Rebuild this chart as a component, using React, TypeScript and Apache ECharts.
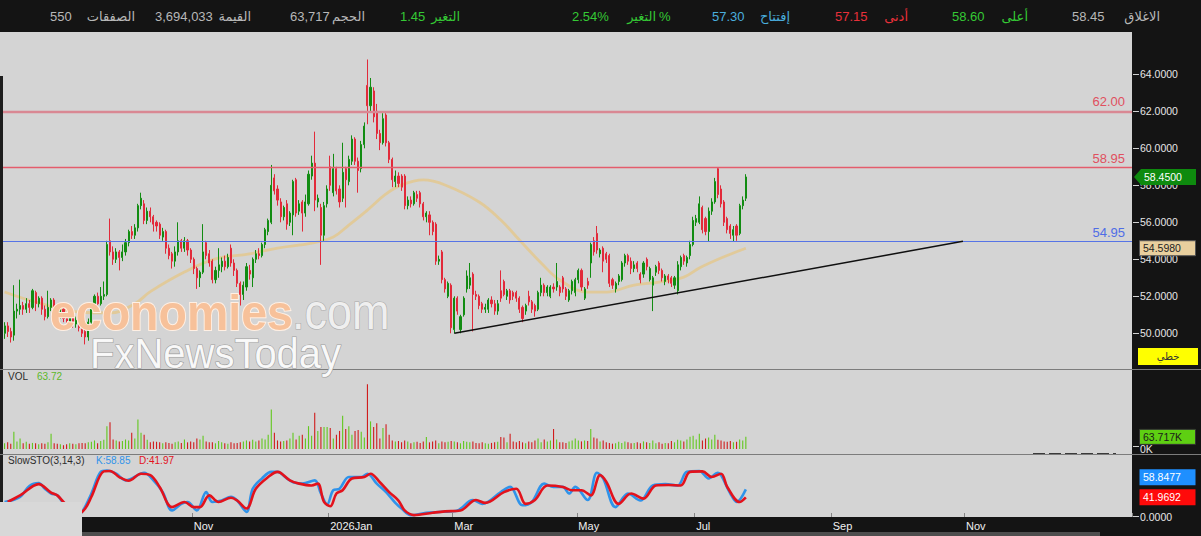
import React, { useEffect, useRef } from "react";
import * as echarts from "echarts";

// ---------- data ----------
const SLOT_COUNT = 364;
const slots: string[] = Array.from({ length: SLOT_COUNT }, (_, i) => String(i));
const monthTicks: Record<number, string> = { 61: "Nov", 105: "2026Jan", 145: "Mar", 185: "May", 223: "Jul", 267: "Sep", 310: "Nov" };

// [open, close, low, high]
const candles: number[][] = [
  [50.0,50.4,49.7,50.6],[50.4,50.1,49.8,50.6],[50.1,49.8,49.5,50.3],[49.9,51.2,49.6,52.6],[51.2,51.3,50.8,51.6],
  [51.3,51.5,51.0,52.9],[51.5,51.3,51.0,51.7],[51.3,51.6,51.1,51.9],[51.6,51.4,51.1,51.8],[51.4,52.3,51.3,52.4],
  [52.2,51.6,51.2,52.3],[51.6,51.9,51.4,52.0],[51.9,51.3,51.0,52.0],[51.3,50.9,50.7,51.5],[50.9,51.4,50.8,52.3],
  [51.4,51.8,51.2,51.9],[51.8,51.2,51.0,51.9],[51.2,51.0,50.7,51.4],[51.0,51.3,50.8,51.5],[51.3,50.8,50.6,51.4],
  [50.8,50.6,50.4,51.0],[50.6,50.9,50.5,51.1],[50.9,50.5,50.3,51.0],[50.5,50.7,50.3,50.9],[50.7,50.3,50.1,50.8],
  [50.3,50.0,49.8,50.5],[50.1,49.8,49.4,50.2],[49.8,50.6,49.6,50.8],[50.6,51.5,50.5,51.6],[51.5,52.0,51.3,52.1],
  [52.0,51.6,51.4,52.2],[51.6,52.0,51.5,52.5],[52.0,52.1,51.8,52.8],[52.1,54.8,52.0,55.0],[55.0,54.4,54.2,56.2],
  [54.4,54.0,53.7,54.7],[54.0,54.4,53.8,54.6],[54.4,54.1,53.4,54.5],[54.1,54.4,53.9,54.8],[54.4,54.9,54.2,55.1],
  [54.9,55.5,54.7,55.6],[55.5,55.3,55.1,55.8],[55.3,55.7,55.1,55.9],[55.7,56.9,55.5,57.0],[56.9,57.3,56.7,57.6],
  [57.0,56.1,55.9,57.2],[56.1,56.6,55.9,56.8],[56.6,56.3,56.0,56.8],[56.3,55.9,55.5,56.4],[56.0,55.8,55.5,56.1],
  [55.9,55.3,55.1,56.0],[55.2,55.5,55.0,55.7],[55.5,54.6,54.3,55.6],[54.6,54.2,54.0,54.8],[54.3,53.9,53.5,54.4],
  [53.9,54.4,53.6,54.7],[54.4,55.0,54.2,56.0],[55.0,54.6,54.4,55.1],[54.6,55.0,54.4,55.2],[55.0,54.5,54.2,55.1],
  [54.5,54.0,53.8,54.6],[54.0,53.5,53.2,54.1],[53.5,53.0,52.4,53.6],[53.0,53.3,52.5,53.4],[53.3,54.4,53.2,55.9],
  [54.9,54.2,54.0,55.0],[54.3,53.8,53.6,54.5],[53.9,52.9,52.7,54.0],[52.9,53.4,52.7,53.6],[53.4,53.7,53.0,54.6],
  [53.6,53.9,53.3,54.1],[53.9,53.6,53.4,54.2],[53.6,54.1,53.5,54.3],[54.6,53.8,53.6,54.8],[53.8,53.4,53.1,54.0],
  [53.4,52.7,52.5,53.5],[52.7,52.1,51.5,52.8],[52.1,52.6,51.8,52.8],[52.5,53.6,52.3,53.8],[53.4,53.2,52.9,53.7],
  [53.0,54.0,52.5,54.1],[54.0,54.3,53.8,54.5],[54.3,54.2,54.0,54.6],[54.2,54.8,54.1,54.9],[54.8,55.6,54.6,55.7],
  [55.5,56.1,55.3,56.2],[56.0,58.0,55.9,59.1],[58.4,57.7,57.5,58.6],[57.8,57.2,56.9,58.0],[57.1,56.3,56.0,57.3],
  [56.3,56.8,56.1,56.9],[57.0,55.9,55.6,57.2],[56.0,56.5,55.8,56.6],[56.4,58.2,55.3,58.3],[58.3,56.5,56.3,58.4],
  [56.6,57.0,56.4,57.2],[57.1,56.5,55.5,57.2],[56.5,57.1,56.3,57.5],[57.0,58.6,56.9,58.8],[58.5,59.2,58.3,59.6],
  [59.2,57.2,56.6,60.9],[57.1,57.3,56.8,57.5],[56.8,55.3,53.7,57.0],[55.3,56.9,55.0,57.1],[57.0,57.8,56.8,58.0],
  [59.0,58.0,57.7,59.6],[57.6,58.9,57.4,59.7],[58.9,57.7,57.5,59.0],[57.8,57.1,56.8,58.0],[57.3,58.7,57.1,60.3],
  [58.9,58.3,56.8,59.0],[58.2,59.4,58.0,59.6],[59.3,60.5,59.1,60.7],[60.5,59.3,59.1,60.6],[59.3,58.8,57.6,59.5],
  [58.9,60.2,58.7,60.4],[60.2,61.2,60.0,61.4],[63.4,62.3,61.3,64.8],[62.3,63.3,62.0,63.8],[63.1,61.7,61.4,63.3],
  [62.0,60.8,60.5,62.4],[60.8,60.3,59.9,61.0],[60.3,61.6,60.2,61.9],[61.8,60.3,60.1,61.9],[60.3,59.4,59.2,60.4],
  [59.4,58.3,57.9,59.5],[58.2,58.5,57.9,58.8],[58.5,58.1,57.9,58.7],[58.5,57.9,57.7,58.6],[58.5,56.9,56.7,58.6],
  [56.9,57.2,56.7,57.4],[57.2,57.0,56.8,57.4],[57.0,57.6,56.9,57.7],[57.5,57.3,57.1,57.7],[57.6,57.0,56.8,57.7],
  [57.0,56.3,56.1,57.1],[56.3,56.5,56.0,56.6],[56.4,56.0,55.3,56.6],[56.0,55.5,55.3,56.1],[55.9,53.9,53.7,56.0],
  [53.9,54.0,53.7,54.2],[54.4,52.9,52.7,54.5],[52.9,52.4,52.2,53.0],[52.0,52.7,51.9,52.8],[52.6,50.3,50.0,52.7],
  [50.2,51.9,50.0,52.0],[51.9,51.2,51.0,52.0],[50.2,50.9,50.0,51.0],[51.0,51.9,50.9,52.0],[52.4,53.1,52.2,53.4],
  [52.6,53.0,52.4,53.8],[53.2,52.1,50.1,53.3],[52.1,52.0,51.8,52.3],[52.0,51.5,51.3,52.1],[51.6,51.3,51.1,51.7],
  [51.3,51.4,51.1,51.6],[51.3,51.8,51.1,51.9],[51.8,51.6,51.4,52.0],[51.6,51.2,51.0,51.8],[51.2,51.6,51.0,51.8],
  [52.3,51.9,51.7,53.4],[52.8,52.1,52.0,52.9],[52.0,52.3,51.8,52.4],[52.3,51.8,51.6,52.4],[52.2,52.0,51.8,52.3],
  [52.2,51.9,51.7,52.3],[51.9,51.3,51.1,52.0],[51.4,50.8,50.6,51.5],[51.2,51.5,51.0,51.6],[52.0,51.7,51.5,52.3],
  [51.7,51.3,51.1,51.8],[51.5,51.2,50.9,51.6],[51.3,52.2,51.2,52.3],[52.2,52.6,52.0,53.0],[52.6,52.2,52.0,52.7],
  [52.2,52.5,52.0,52.6],[52.0,52.5,51.9,52.6],[52.5,52.4,52.2,52.7],[52.5,52.8,52.3,53.8],[52.5,52.2,52.0,52.6],
  [53.0,52.4,52.2,53.1],[52.4,52.0,51.8,52.5],[51.8,52.3,51.7,52.4],[52.3,52.8,52.1,52.9],[52.2,52.9,52.0,53.0],
  [52.9,53.4,52.7,53.5],[53.4,52.5,52.3,53.5],[51.9,52.4,51.8,52.5],[52.8,52.6,52.4,53.0],[53.8,54.8,53.0,54.9],
  [55.0,54.4,54.2,55.2],[55.4,54.5,54.3,55.8],[54.3,54.5,54.1,54.6],[54.6,53.9,53.3,54.7],[54.3,54.0,53.8,54.4],
  [54.2,52.7,52.5,54.3],[52.9,52.6,52.4,53.0],[52.4,52.7,52.2,52.8],[52.8,53.1,52.6,53.2],[52.9,53.8,52.8,53.9],
  [53.8,54.2,53.6,54.3],[54.2,53.9,53.7,54.3],[53.9,53.5,53.2,54.1],[53.5,53.7,53.3,53.9],[53.8,53.5,53.3,53.9],
  [53.2,52.9,52.7,53.3],[53.2,53.8,53.0,53.9],[54.0,53.6,53.4,54.1],[52.9,53.5,52.8,53.6],[52.6,53.0,51.2,53.1],
  [53.3,53.6,53.1,53.7],[53.8,53.4,53.2,53.9],[53.4,53.0,52.8,53.5],[52.8,53.1,52.6,53.2],[53.1,52.9,52.7,53.2],
  [53.0,52.7,52.5,53.1],[52.6,53.0,52.4,53.1],[52.3,53.7,52.1,53.9],[53.6,54.1,53.4,54.2],[54.2,53.9,53.7,54.3],
  [53.8,54.1,53.6,54.2],[54.2,54.8,54.0,55.0],[54.8,56.1,54.7,56.3],[56.0,56.2,55.8,56.4],[56.0,57.0,55.9,57.4],
  [56.8,55.6,55.4,56.9],[56.2,55.5,55.3,56.3],[55.5,56.6,54.95,56.8],[56.6,57.1,56.4,57.3],[57.1,58.2,57.0,58.4],
  [58.9,57.5,57.3,58.95],[57.8,57.0,56.8,58.0],[57.1,56.0,55.8,57.2],[56.2,55.6,55.4,56.3],[55.8,55.4,55.1,55.9],
  [55.3,55.6,54.95,55.8],[55.8,55.3,55.0,55.9],[55.4,56.9,55.3,57.0],[56.9,57.2,56.7,57.4],[57.30,58.45,57.15,58.60],
];

// thousands of shares
const volumes: number[] = [
  30,35,28,90,40,55,30,38,28,32, 30,25,30,28,35,80,30,28,25,20,
  25,30,28,25,30,32,30,35,38,45, 30,42,48,120,140,50,45,40,42,50,
  45,85,55,155,85,75,48,35,40,38, 35,30,35,32,28,35,40,32,50,35,
  40,35,55,50,70,40,35,35,30,42, 35,30,28,35,30,32,35,40,45,40,
  48,40,45,55,50,75,207,85,45,40, 42,45,55,85,50,70,75,55,120,70,
  190,95,115,115,115,110,55,75,95,175, 105,120,75,95,100,90,60,340,145,115,
  135,55,110,130,75,45,40,42,35,45, 40,30,35,38,32,40,63,35,40,45,
  30,40,35,38,42,40,35,30,42,38, 35,40,32,30,35,30,28,32,35,38,
  63,60,35,80,40,35,42,35,30,40, 35,45,55,35,50,40,45,105,50,35,
  35,32,40,45,55,45,40,45,42,105, 60,55,40,45,35,32,28,30,38,32,
  40,35,30,32,35,30,40,35,32,45, 30,35,28,32,30,42,35,48,45,40,
  50,65,70,50,80,45,55,60,50,75, 48,45,40,38,42,35,38,50,45,63.717,
];

// moving average: [slot, value]
const maPoints: number[][] = [
  [0,52.23],[11,51.64],[24,51.15],[34,51.1],[42,51.6],[47,52.25],[58,53.31],[68,54.02],[79,54.29],[88,54.61],
  [99,54.88],[106,55.21],[111,55.85],[117,56.66],[123,57.53],[128,58.02],[135,58.29],[142,58.02],[153,57.10],
  [160,56.12],[166,55.04],[173,53.80],[179,52.88],[188,52.23],[194,52.23],[203,52.61],[211,52.77],[219,53.04],
  [224,53.53],[231,54.07],[239,54.598],
];

const stochK: number[][] = [
  [0,32],[5,43],[8,66],[11,72],[13,60],[15,50],[17,46],[19,28],[21,9],[23,3],[25,11],[28,50],[31,96],[33,99],
  [36,92],[39,78],[41,82],[45,94],[48,78],[51,53],[54,14],[57,28],[59,32],[62,14],[65,53],[67,32],[70,35],
  [73,43],[75,35],[78,11],[80,60],[83,82],[86,96],[88,96],[91,82],[93,74],[96,71],[100,78],[102,50],[104,27],
  [106,57],[108,60],[111,85],[115,85],[117,92],[120,71],[123,53],[126,30],[128,18],[131,4],[136,9],[141,11],
  [146,14],[151,36],[154,28],[160,53],[163,64],[167,25],[170,32],[174,71],[177,64],[180,64],[182,50],[184,64],
  [188,36],[191,94],[193,82],[197,21],[201,50],[205,35],[209,67],[213,70],[217,67],[220,96],[224,98],[227,82],
  [230,94],[231,89],[234,50],[236,32],[239,58.85],
];

const stochD: number[][] = [
  [1,32],[5,46],[11,70],[15,52],[17,46],[19,32],[22,14],[24,8],[26,18],[28,43],[32,97],[34,98],[37,85],[40,77],
  [44,92],[47,89],[50,64],[54,21],[58,32],[61,21],[63,21],[66,46],[69,32],[73,41],[75,35],[78,18],[81,60],
  [85,85],[88,96],[89,94],[92,78],[95,71],[99,67],[101,71],[103,32],[105,23],[107,50],[109,57],[112,82],
  [116,85],[118,92],[121,74],[124,53],[127,35],[129,14],[132,4],[138,9],[142,12],[147,14],[152,36],[155,30],
  [161,53],[165,60],[168,28],[171,36],[175,67],[180,64],[183,57],[186,57],[189,46],[192,89],[194,75],[198,28],
  [202,50],[206,39],[210,67],[214,68],[218,67],[221,96],[225,97],[228,85],[231,92],[233,64],[237,32],[239,41.97],
];

const priceTicks = [50, 52, 54, 56, 58, 60, 62, 64];
const resistanceLevels = [62, 58.95];
const supportLevel = 54.95;
const trendPoints: number[][] = [[145, 50.0], [309, 54.97]];

const lastClose = 58.45;
const lastMA = 54.598;
const lastVolume = 63.717;
const lastK = 58.8477;
const lastD = 41.9692;

const headerNames = ["الصفقات", "القيمة", "الحجم", "التغير", "التغير", "إفتتاح", "أدنى", "أعلى", "الاغلاق"];
const headerValues = ["550", "3,694,033", "63,717", "1.45", "2.54%", "57.30", "57.15", "58.60", "58.45"];

// ---------- styling ----------
const FONT = '"Liberation Sans", "DejaVu Sans", sans-serif';
const UP = "#128c12";
const DOWN = "#e22a3a";
const VOL_UP = "#62c81e";
const VOL_DOWN = "#d01c1c";
const K_COLOR = "#2f93ea";
const D_COLOR = "#e3121c";

const headerLayout = [
  { vx: 50, nx: 135, c: "#b8b8b8" },
  { vx: 155, nx: 251, c: "#b8b8b8" },
  { vx: 290, nx: 365, c: "#b8b8b8" },
  { vx: 400, nx: 460, c: "#35c935" },
  { vx: 572, nx: 656, c: "#35c935" },
  { vx: 712, nx: 790, c: "#4aaede" },
  { vx: 835, nx: 908, c: "#e8303a" },
  { vx: 952, nx: 1028, c: "#35c935" },
  { vx: 1072, nx: 1160, c: "#b8b8b8" },
];

function txt(x: number, y: number, text: string, fill: string, size: number, align = "left", z = 100) {
  return {
    type: "text",
    z,
    x,
    y,
    silent: true,
    style: {
      text,
      fill,
      font: `${size}px ${FONT}`,
      textAlign: align,
      align,
      textVerticalAlign: "middle",
      verticalAlign: "middle",
    },
  };
}

function rect(x: number, y: number, w: number, h: number, fill: string, z = 100, stroke?: string) {
  return {
    type: "rect",
    z,
    silent: true,
    shape: { x, y, width: w, height: h },
    style: stroke ? { fill, stroke, lineWidth: 1 } : { fill },
  };
}

function hline(x1: number, x2: number, y: number, stroke: string, z = 100, dash?: number[]) {
  return {
    type: "line",
    z,
    silent: true,
    shape: { x1, y1: y, x2, y2: y },
    style: { stroke, lineWidth: 1, lineDash: dash },
  };
}

export default function App() {
  const ref = useRef<HTMLDivElement>(null);

  useEffect(() => {
    if (!ref.current) return;
    const chart = echarts.init(ref.current, null, { renderer: "svg" });

    const xAxisBase = (g: number) => ({
      type: "category",
      gridIndex: g,
      data: slots,
      boundaryGap: true,
      axisLine: { show: false },
      splitLine: { show: false },
      axisTick: {
        show: g === 2,
        inside: true,
        length: 4,
        interval: (i: number) => monthTicks[i] !== undefined,
        lineStyle: { color: "#858585" },
      },
      axisLabel: {
        show: g === 2,
        interval: (i: number) => monthTicks[i] !== undefined,
        formatter: (_v: string, i: number) => monthTicks[i] ?? "",
        align: "left",
        color: "#f0f0f0",
        fontSize: 11,
        fontFamily: FONT,
        margin: 3,
      },
    });

    const option: any = {
      animation: false,
      backgroundColor: "#141414",
      grid: [
        { left: 3, right: 69, top: 41, height: 328, outerBoundsMode: "none" },
        { left: 3, right: 69, top: 370, height: 79, outerBoundsMode: "none" },
        { left: 3, right: 69, top: 454, height: 63, outerBoundsMode: "none" },
      ],
      xAxis: [xAxisBase(0), xAxisBase(1), xAxisBase(2)],
      yAxis: [
        {
          type: "value",
          gridIndex: 0,
          position: "right",
          min: 48.07,
          max: 65.8,
          splitNumber: 9,
          axisLine: { show: false },
          axisTick: { show: false },
          splitLine: { show: false },
          axisLabel: {
            color: "#e6e6e6",
            fontSize: 10.5,
            fontFamily: FONT,
            margin: 8,
            showMinLabel: false,
            showMaxLabel: false,
            formatter: (v: number) => (priceTicks.indexOf(v) >= 0 ? v.toFixed(4) : ""),
          },
        },
        {
          type: "value",
          gridIndex: 1,
          position: "right",
          min: 0,
          max: 415,
          axisLine: { show: false },
          axisTick: { show: false },
          splitLine: { show: false },
          axisLabel: { color: "#e6e6e6", fontSize: 10.5, fontFamily: FONT, margin: 8, formatter: (v: number) => (v === 0 ? "0K" : "") },
        },
        {
          type: "value",
          gridIndex: 2,
          position: "right",
          min: 0,
          max: 134,
          axisLine: { show: false },
          axisTick: { show: false },
          splitLine: { show: false },
          axisLabel: { color: "#e6e6e6", fontSize: 10.5, fontFamily: FONT, margin: 8, formatter: (v: number) => (v === 0 ? "0.0000" : "") },
        },
      ],
      series: [
        {
          name: "MA",
          type: "line",
          xAxisIndex: 0,
          yAxisIndex: 0,
          data: maPoints,
          smooth: 0.4,
          showSymbol: false,
          silent: true,
          z: 1,
          lineStyle: { color: "#e2c994", width: 2.8, opacity: 0.9 },
        },
        {
          name: "price",
          type: "candlestick",
          xAxisIndex: 0,
          yAxisIndex: 0,
          data: candles,
          barWidth: 1.6,
          silent: true,
          z: 3,
          itemStyle: { color: UP, color0: DOWN, borderColor: UP, borderColor0: DOWN, borderWidth: 1 },
          markLine: {
            silent: true,
            symbol: ["none", "none"],
            animation: false,
            label: { show: true, position: "insideEndTop", fontSize: 13, fontFamily: FONT, distance: [7, 3] },
            data: [
              {
                yAxis: resistanceLevels[0],
                lineStyle: { color: "#d98893", width: 2.4, type: "solid" },
                label: { formatter: resistanceLevels[0].toFixed(2), color: "#e0505f" },
              },
              {
                yAxis: resistanceLevels[1],
                lineStyle: { color: "#e45c6c", width: 1.4, type: "solid" },
                label: { formatter: resistanceLevels[1].toFixed(2), color: "#e0505f" },
              },
              {
                yAxis: supportLevel,
                lineStyle: { color: "#5674e6", width: 1.2, type: "solid" },
                label: { formatter: supportLevel.toFixed(2), color: "#4f6de6" },
              },
              [
                { coord: trendPoints[0], lineStyle: { color: "#101010", width: 1.5, type: "solid" }, label: { show: false } },
                { coord: trendPoints[1] },
              ],
            ],
          },
        },
        {
          name: "VOL",
          type: "bar",
          xAxisIndex: 1,
          yAxisIndex: 1,
          barWidth: 1.1,
          silent: true,
          data: volumes.map((v, i) => ({
            value: v,
            itemStyle: { color: candles[i][1] >= candles[i][0] ? VOL_UP : VOL_DOWN },
          })),
        },
        {
          name: "K",
          type: "line",
          xAxisIndex: 2,
          yAxisIndex: 2,
          data: stochK,
          smooth: 0.35,
          showSymbol: false,
          silent: true,
          z: 3,
          lineStyle: { color: K_COLOR, width: 2.6 },
        },
        {
          name: "D",
          type: "line",
          xAxisIndex: 2,
          yAxisIndex: 2,
          data: stochD,
          smooth: 0.35,
          showSymbol: false,
          silent: true,
          z: 4,
          lineStyle: { color: D_COLOR, width: 2.6 },
        },
      ],
    };

    chart.setOption(option);

    const py = (v: number) => chart.convertToPixel({ yAxisIndex: 0 }, v) as number;
    const vy = (v: number) => chart.convertToPixel({ yAxisIndex: 1 }, v) as number;
    const sy = (v: number) => chart.convertToPixel({ yAxisIndex: 2 }, v) as number;

    const g: any[] = [];
    // panel backgrounds
    g.push(rect(0, 32, 1132, 485, "#d4d4d4", -10));
    g.push(rect(0, 76, 3, 441, "#1d1d1d", -9));
    g.push(rect(82, 532, 1018, 4, "#4e4e4e", -9));
    // separators
    g.push(hline(0, 1201, 369.5, "#7c7c7c", 5));
    g.push(hline(0, 1201, 454.5, "#7c7c7c", 5));
    g.push(hline(1033, 1116, 453.5, "#3a3a3a", 5, [12, 4]));

    // header
    headerLayout.forEach((h, i) => {
      g.push(txt(h.vx, 16, headerValues[i], h.c, 13, "left"));
      g.push(txt(h.nx, 16, headerNames[i], h.c, 13, "right"));
    });
    g.push(txt(659, 16, "%", "#35c935", 13, "left"));

    // watermark
    g.push({
      type: "text", z: 90, x: 50, y: 312, scaleX: 0.93, silent: true,
      style: { text: "economies", x: 0, y: 0, font: `bold 50px ${FONT}`, fill: "#f7c19a", stroke: "#fff0e4", lineWidth: 2, textVerticalAlign: "middle", verticalAlign: "middle" },
    });
    g.push({
      type: "text", z: 90, x: 292, y: 312, scaleX: 0.9, silent: true,
      style: { text: ".com", x: 0, y: 0, font: `50px ${FONT}`, fill: "#efefef", stroke: "#a9a9a9", lineWidth: 1.2, textVerticalAlign: "middle", verticalAlign: "middle" },
    });
    g.push({
      type: "text", z: 90, x: 90, y: 353, scaleX: 0.93, silent: true,
      style: { text: "FxNewsToday", x: 0, y: 0, font: `43px ${FONT}`, fill: "rgba(255,255,255,0.9)", stroke: "#9d9d9d", lineWidth: 1.2, textVerticalAlign: "middle", verticalAlign: "middle" },
    });

    // panel titles
    g.push(txt(8, 376, "VOL", "#2c2c2c", 10));
    g.push(txt(37, 376, lastVolume.toFixed(2), "#5cb82a", 10));
    g.push(txt(8, 460, "SlowSTO(3,14,3)", "#2c2c2c", 10));
    g.push(txt(96, 460, "K:" + lastK.toFixed(2), K_COLOR, 10));
    g.push(txt(139, 460, "D:" + lastD.toFixed(2), D_COLOR, 10));

    // right-axis ticks
    priceTicks.forEach((v) => g.push(hline(1133, 1139, Math.round(py(v)) + 0.5, "#d0d0d0", 5)));
    g.push(hline(1133, 1139, Math.round(vy(0)) - 2.5, "#d0d0d0", 5));
    g.push(hline(1133, 1139, Math.round(sy(0)) - 0.5, "#d0d0d0", 5));

    // last close arrow box
    const yc = py(lastClose);
    g.push({
      type: "polygon", z: 100, silent: true,
      shape: { points: [[1134, yc], [1141, yc - 8], [1196, yc - 8], [1196, yc + 8], [1141, yc + 8]] },
      style: { fill: "#0e8a0e" },
    });
    g.push(txt(1144, yc, lastClose.toFixed(4), "#ffffff", 10.5));

    // MA box
    const ym = py(lastMA);
    g.push(rect(1139.5, ym - 7.5, 56, 15, "#e8cf9e", 100, "#555"));
    g.push(txt(1143, ym, lastMA.toFixed(4), "#1e1e1e", 10.5));

    // chart-type box
    g.push(rect(1138, 348, 60, 17, "#ffff00", 100));
    g.push(txt(1168, 356.5, "خطي", "#333", 10, "center"));

    // volume box
    const yv = vy(lastVolume);
    g.push(rect(1139.5, yv - 7.5, 56, 15, "#5ecf12", 100, "#333"));
    g.push(txt(1143, yv, lastVolume.toFixed(3) + "K", "#1a1a1a", 10.5));

    // stochastic boxes
    const yd = sy(lastD);
    let yk = sy(lastK);
    if (yk > yd - 20) yk = yd - 20;
    g.push(rect(1139.5, yk - 8, 56, 16, "#1e8fff", 100));
    g.push(txt(1143, yk, lastK.toFixed(4), "#ffffff", 10.5));
    g.push(rect(1139.5, yd - 8, 56, 16, "#ff0a0a", 100));
    g.push(txt(1143, yd, lastD.toFixed(4), "#ffffff", 10.5));

    // bottom-left overlay
    g.push(rect(0, 502, 82, 34, "#d8d8d8", 100));

    chart.setOption({ graphic: g });

    return () => chart.dispose();
  }, []);

  return <div ref={ref} style={{ position: "fixed", left: 0, top: 0, width: 1201, height: 536 }} />;
}
